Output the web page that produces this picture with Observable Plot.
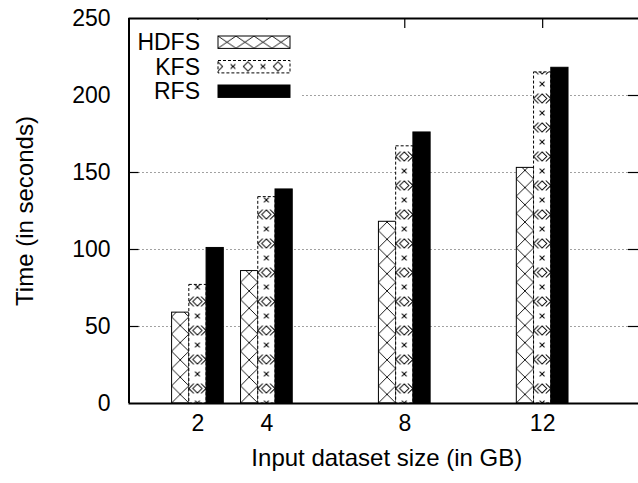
<!DOCTYPE html>
<html><head><meta charset="utf-8">
<script src="https://cdn.jsdelivr.net/npm/d3@7"></script>
<script src="https://cdn.jsdelivr.net/npm/@observablehq/plot@0.6"></script>
<style>body{margin:0;background:#fff;} svg{display:block;}</style>
</head><body><div id="chart"></div>
<script>
const sizes = [2, 4, 8, 12];
const series = ["HDFS", "KFS", "RFS"];
const hdfs = [59, 86, 118, 153];
const kfs = [77, 134, 167, 215];
const rfs = [101, 139, 176, 218];
const yTicks = [0, 50, 100, 150, 200, 250];
const gridValues = [50, 100, 150, 200];
const xLabel = "Input dataset size (in GB)";
const yLabel = "Time (in seconds)";

const values = {HDFS: hdfs, KFS: kfs, RFS: rfs};
const offsets = {HDFS: -0.5, KFS: 0, RFS: 0.5};
const barW = 0.5;
const font = "'Liberation Sans', Arial, Helvetica, sans-serif";
const NS = "http://www.w3.org/2000/svg";
function el(name, attrs) { const e = document.createElementNS(NS, name); for (const k in attrs) e.setAttribute(k, attrs[k]); return e; }

function hatchPattern(id, x0, y0, w, h) {
  const p = el("pattern", {id, patternUnits: "userSpaceOnUse", x: x0, y: y0, width: w, height: h});
  p.append(el("rect", {width: w, height: h, fill: "white"}));
  p.append(el("path", {d: `M${-w*0.1},${-h*0.1}L${w*1.1},${h*1.1}M${-w*0.1},${h*1.1}L${w*1.1},${-h*0.1}`, stroke: "black", "stroke-width": 0.9, fill: "none"}));
  return p;
}
function dotPattern(id, x0, y0, w, h, vertical) {
  const p = el("pattern", {id, patternUnits: "userSpaceOnUse", x: x0, y: y0, width: w, height: h});
  p.append(el("rect", {width: w, height: h, fill: "white"}));
  const cx = w / 2, cy = h / 2, r = 4.6, s = 2.4;
  const cross = (x, y, k) => `M${x-k},${y-k}L${x+k},${y+k}M${x-k},${y+k}L${x+k},${y-k}`;
  let d = `M${cx},${cy-r}L${cx+r},${cy}L${cx},${cy+r}L${cx-r},${cy}Z`;
  if (vertical) {
    d += cross(cx, 0, s) + cross(cx, h, s) + cross(0, cy, 5) + cross(w, cy, 5);
  } else {
    d += cross(0, cy, s) + cross(w, cy, s);
  }
  p.append(el("path", {d, stroke: "black", "stroke-width": 1, fill: "none"}));
  return p;
}

function defsMark(index, scales) {
  const x = scales.x, y = scales.y;
  const w = (x(1) - x(0)) * barW;
  const defs = el("defs", {});
  defs.append(hatchPattern("pHDFS", x(sizes[0] - 0.75), y(0), w, w));
  defs.append(dotPattern("pKFS", x(sizes[0] - 0.25), y(0), w, 29, true));
  defs.append(hatchPattern("lHDFS", 218, 36, 18, 12.3));
  defs.append(dotPattern("lKFS", 218 - 15, 60.7, 30, 11.6, false));
  return defs;
}

function legendMark() {
  const g = el("g", {"font-family": font, "font-size": 23});
  g.append(el("rect", {x: 130, y: 20, width: 170, height: 82, fill: "white"}));
  const keyFill = {HDFS: "url(#lHDFS)", KFS: "url(#lKFS)", RFS: "black"};
  series.forEach((s, i) => {
    const cy = 42.2 + i * 24.5;
    const t = el("text", {x: 200, y: cy, "text-anchor": "end", dy: "0.35em", fill: "black"});
    t.textContent = s;
    g.append(t);
    const r = el("rect", {x: 218, y: cy - 6.2, width: 72, height: 12.4, fill: keyFill[s], stroke: "black", "stroke-width": 1});
    if (s === "KFS") r.setAttribute("stroke-dasharray", "3,2");
    g.append(r);
  });
  return g;
}

const barMark = (s, fill, extra) => Plot.rectY(sizes.map((d, i) => ({size: d, value: values[s][i]})), {
  x1: d => d.size + offsets[s] - barW / 2,
  x2: d => d.size + offsets[s] + barW / 2,
  y1: 0, y2: d => d.value,
  fill, stroke: "black", strokeWidth: 1, ...extra
});

const chart = Plot.plot({
  width: 638, height: 483,
  marginLeft: 128.5, marginRight: 0, marginTop: 18, marginBottom: 80,
  style: {fontFamily: font, fontSize: "23px", color: "black", background: "white"},
  x: {type: "linear", domain: [0, 14.78], axis: null},
  y: {type: "linear", domain: [0, 250], axis: null},
  marks: [
    defsMark,
    Plot.ruleY(gridValues, {x1: 0.29, x2: 14.49, stroke: "#444", strokeWidth: 1, strokeDasharray: "1,3"}),
    barMark("HDFS", "url(#pHDFS)", {}),
    barMark("KFS", "url(#pKFS)", {strokeDasharray: "3,2"}),
    barMark("RFS", "black", {}),
    Plot.ruleY(gridValues, {x1: 0, x2: 0.29, stroke: "black", strokeWidth: 1.2}),
    Plot.ruleY(gridValues, {x1: 14.49, x2: 14.78, stroke: "black", strokeWidth: 1.2}),
    Plot.ruleX(sizes, {y1: 250, y2: 243.5, stroke: "black", strokeWidth: 1.2}),
    legendMark,
    Plot.ruleX([0], {stroke: "black", strokeWidth: 2}),
    Plot.ruleY([0], {stroke: "black", strokeWidth: 2}),
    Plot.ruleY([250], {stroke: "black", strokeWidth: 2}),
    Plot.text(yTicks, {y: d => d, text: d => String(d), frameAnchor: "left", dx: -18.5, textAnchor: "end", fontSize: 23, fill: "black"}),
    Plot.text(sizes, {x: d => d, text: d => String(d), frameAnchor: "bottom", dy: 27, fontSize: 23, fill: "black"}),
    Plot.text([xLabel], {text: d => d, frameAnchor: "bottom", dy: 62, dx: 3, fontSize: 24, fill: "black"}),
    Plot.text([yLabel], {text: d => d, frameAnchor: "left", dx: -103.5, rotate: -90, textAnchor: "middle", fontSize: 24, fill: "black"})
  ]
});
document.getElementById("chart").append(chart);
</script>
</body></html>
